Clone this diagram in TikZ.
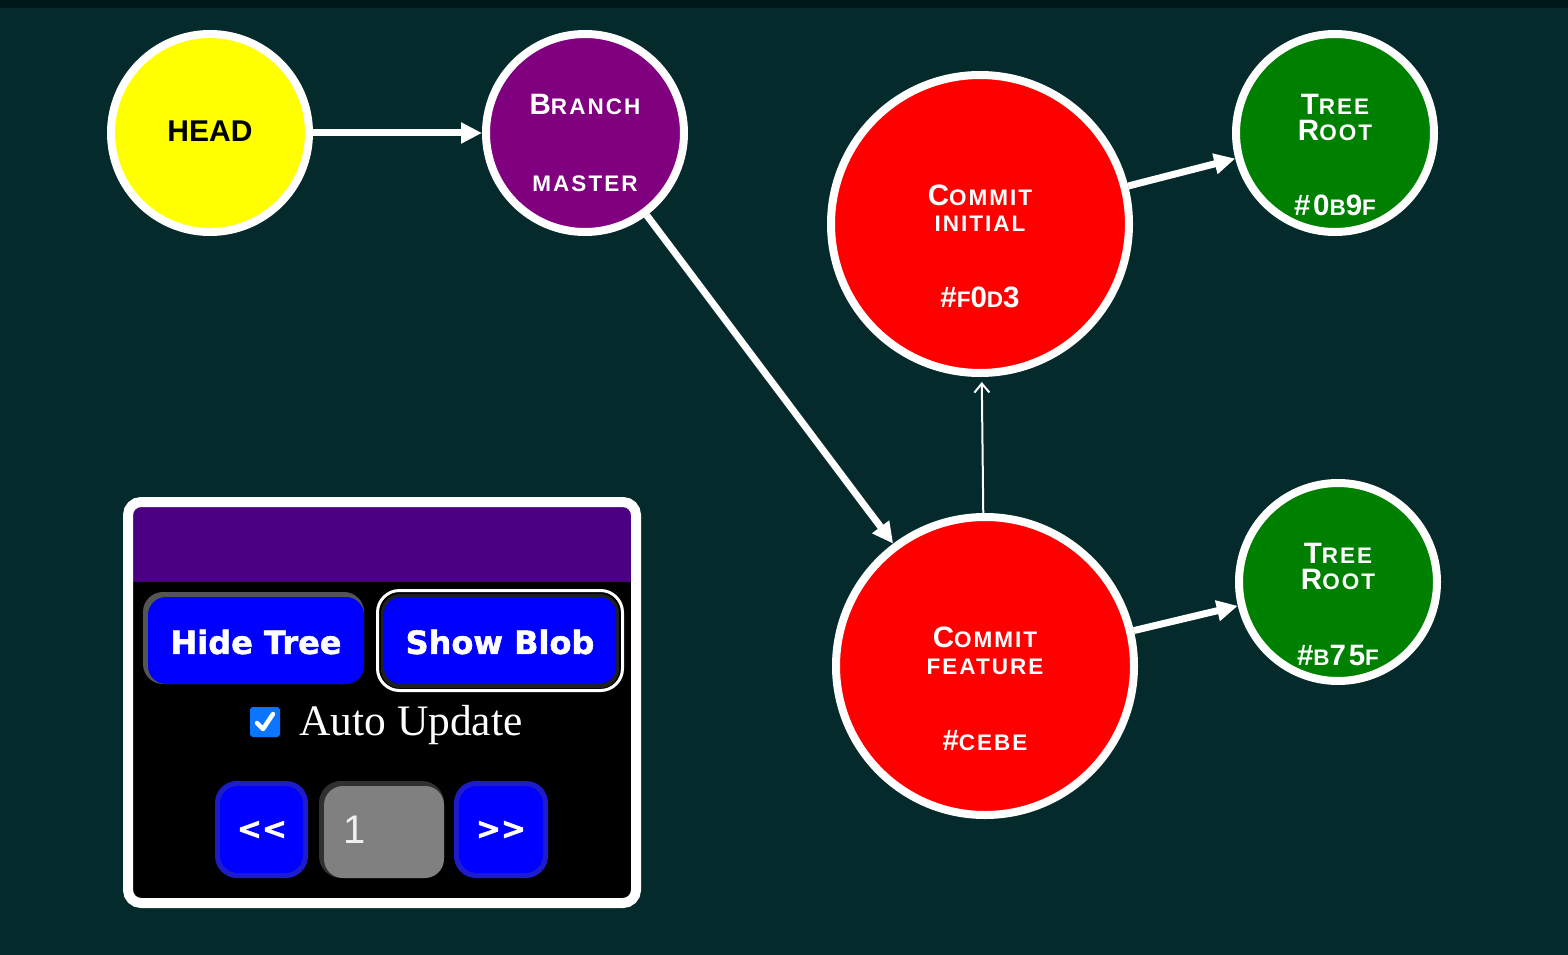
\documentclass[tikz,border=0pt]{standalone}
\usepackage{fontspec}
\usetikzlibrary{arrows.meta}
\setmainfont{Liberation Serif}
\newfontfamily\nfb{Liberation Sans}[LetterSpace=9]
\newfontfamily\plainsans{Liberation Sans}
\newfontfamily\heavysans{DejaVu Sans}[BoldFeatures={FakeBold=1.6}]
\newcommand\BG[1]{{\fontsize{29.5}{31}\selectfont #1}}
\newcommand\SM[1]{{\fontsize{22.5}{25}\selectfont #1}}
\definecolor{bgc}{RGB}{4,42,43}
\definecolor{topc}{RGB}{1,24,26}
\definecolor{headyellow}{RGB}{255,255,0}
\definecolor{branchpurple}{RGB}{128,0,128}
\definecolor{commitred}{RGB}{255,0,0}
\definecolor{treegreen}{RGB}{0,128,0}
\definecolor{panelindigo}{RGB}{75,0,130}
\definecolor{btnblue}{RGB}{0,0,255}
\definecolor{btngray}{RGB}{85,85,85}
\definecolor{btndark}{RGB}{31,31,31}
\definecolor{navborder}{RGB}{28,28,205}
\definecolor{pagegray}{RGB}{128,128,128}
\definecolor{pageborder}{RGB}{48,48,48}
\definecolor{cbblue}{RGB}{10,117,255}
\definecolor{pagetext}{RGB}{240,240,240}
\tikzset{
  smallnode/.style={circle, draw=white, line width=8pt, minimum size=198pt, inner sep=0pt},
  bignode/.style={circle, draw=white, line width=8pt, minimum size=298pt, inner sep=0pt},
  lbl/.style={anchor=base, inner sep=0pt, text=white, font=\nfb\bfseries},
  lbltwo/.style={anchor=north, inner sep=0pt, text=white, align=center,
     font=\nfb\bfseries\fontsize{29.5}{#1}\selectfont},
  linkedge/.style={white, line width=7pt, -{Triangle[length=21pt,width=20pt]}},
  thinedge/.style={white, line width=2pt, -{Straight Barb[length=9pt,width=15pt,line width=2pt]}, shorten >=5pt},
  btntext/.style={inner sep=0pt, text=white, font=\heavysans\bfseries\fontsize{32}{34}\selectfont},
  navtext/.style={inner sep=0pt, text=white, font=\heavysans\bfseries\fontsize{30}{32}\selectfont},
}
\begin{document}
\begin{tikzpicture}[x=1pt,y=-1pt]
\useasboundingbox (0,0) rectangle (1568,955);
\fill[bgc] (0,0) rectangle (1568,955);
\fill[topc] (0,0) rectangle (1568,8);

% graph nodes
\node[smallnode, fill=headyellow] (head) at (210,133) {};
\node[smallnode, fill=branchpurple] (branch) at (585,133) {};
\node[bignode, fill=commitred] (init) at (980,224) {};
\node[bignode, fill=commitred] (feat) at (985,666) {};
\node[smallnode, fill=treegreen] (treeA) at (1335,133) {};
\node[smallnode, fill=treegreen] (treeB) at (1338,582) {};

% labels
\node[anchor=base, inner sep=0pt, text=black, font=\plainsans\bfseries\fontsize{30}{32}\selectfont] (headtxt) at (210,142) {HEAD};
\node[lbl] (branchA) at (585,115) {\BG{B}\SM{RANCH}};
\node[lbl] (branchB) at (585,191) {\SM{MASTER}};
\node[lbltwo=26] (initA) at (980,185) {\BG{C}\SM{OMMIT}\\\SM{INITIAL}};
\node[lbl] (initC) at (980,307) {\BG{\#}\SM{F}\BG{0}\SM{D}\BG{3}};
\node[lbltwo=27] (featA) at (985,627) {\BG{C}\SM{OMMIT}\\\SM{FEATURE}};
\node[lbl] (featC) at (985,750) {\BG{\#}\SM{CEBE}};
\node[lbltwo=26] (treeAa) at (1335,94) {\BG{T}\SM{REE}\\\BG{R}\SM{OOT}};
\node[lbl] (treeAc) at (1335,215) {\BG{\#0}\SM{B}\BG{9}\SM{F}};
\node[lbltwo=26] (treeBa) at (1338,543) {\BG{T}\SM{REE}\\\BG{R}\SM{OOT}};
\node[lbl] (treeBc) at (1338,665) {\BG{\#}\SM{B}\BG{75}\SM{F}};

% connectors
\draw[linkedge] (head) -- (branch);
\draw[linkedge] (branch) -- (feat);
\draw[linkedge] (init) -- (treeA);
\draw[linkedge] (feat) -- (treeB);
\draw[thinedge] (feat) -- (init);

% control panel
\fill[black, rounded corners=13pt] (128,502) rectangle (636,903);
\fill[panelindigo] (133,507) rectangle (631,582);
\draw[white, line width=10pt, rounded corners=13pt] (128,502) rectangle (636,903);

% Hide Tree button
\fill[btngray, rounded corners=20pt] (143,592) rectangle (364,684);
\fill[btnblue, rounded corners=18pt] (148,597) rectangle (364,684);
\node[btntext] (hidetree) at (256,642) {Hide Tree};

% Show Blob button
\draw[white, line width=3pt, rounded corners=22pt] (377.5,590.5) rectangle (622.5,690.5);
\fill[btndark, rounded corners=19pt] (381,594) rectangle (619,688);
\fill[btnblue, rounded corners=17pt] (384,597) rectangle (616,684);
\node[btntext] (showblob) at (500,642) {Show Blob};

% checkbox
\fill[cbblue, rounded corners=3pt] (250,707) rectangle (280,737);
\draw[white, line width=4.5pt, line cap=round, line join=round] (257,723) -- (263,729) -- (273,714);
\node[anchor=base west, inner sep=0pt, text=white, font=\fontsize{43.5}{45}\selectfont] (auto) at (299,735) {Auto Update};

% navigation
\fill[navborder, rounded corners=22pt] (215,781) rectangle (308,878);
\fill[btnblue, rounded corners=18pt] (220,786) rectangle (303,873);
\node[navtext] (prev) at (262,830) {<<};

\fill[pageborder, rounded corners=22pt] (319,781) rectangle (444,878);
\fill[pagegray, rounded corners=19pt] (324,786) rectangle (444,878);
\node[anchor=base, inner sep=0pt, text=pagetext, font=\plainsans\fontsize{40}{42}\selectfont] (page) at (355,843) {1};

\fill[navborder, rounded corners=22pt] (454,781) rectangle (548,878);
\fill[btnblue, rounded corners=18pt] (459,786) rectangle (543,873);
\node[navtext] (next) at (501,830) {>>};
\end{tikzpicture}
\end{document}
